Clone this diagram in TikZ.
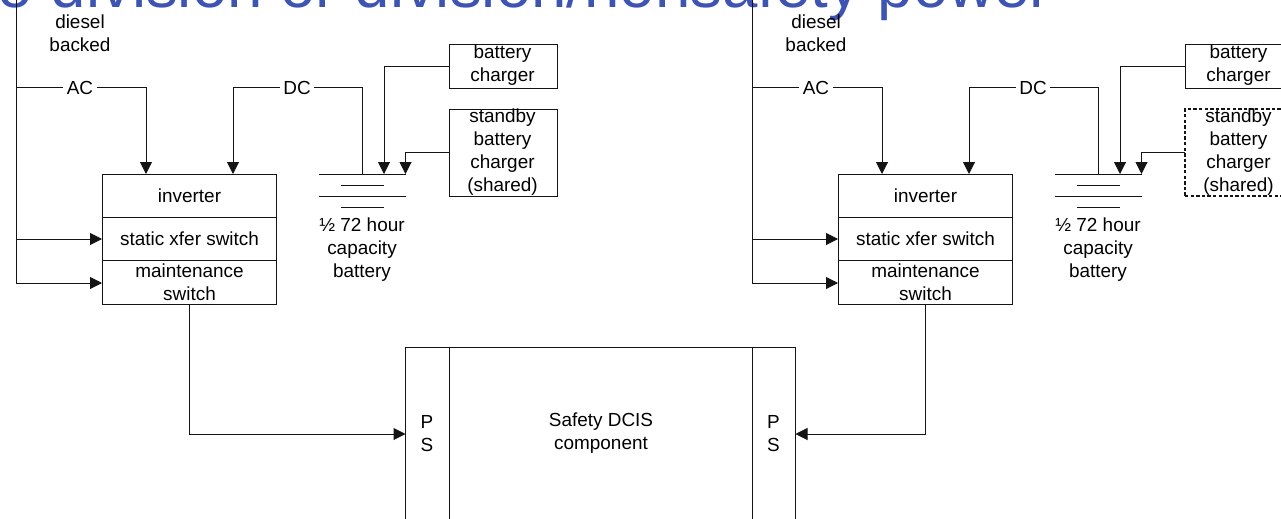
\documentclass[tikz,border=0pt]{standalone}
\usepackage{fontspec}
\setmainfont{Liberation Sans}
\usetikzlibrary{arrows.meta}
\definecolor{ttl}{RGB}{62,84,178}
\definecolor{ln}{RGB}{20,20,20}
\newcommand{\fs}{\fontsize{14.2pt}{17.2pt}\selectfont}
\tikzset{
  every node/.style={font=\fs,text=black},
  conn/.style={draw=ln,line width=0.75pt},
  arr/.style={conn,-{Triangle[length=9pt,width=9pt]}},
  bx/.style={draw=ln,line width=0.75pt,inner sep=0pt,outer sep=0pt,anchor=north west,rectangle},
  dashbx/.style={bx,line width=1pt,dash pattern=on 2.6pt off 1.6pt},
  lbl/.style={align=center,inner sep=0pt},
  gap/.style={lbl,fill=white,inner sep=2.5pt},
  plate/.style={draw=ln,line width=0.75pt},
}
\begin{document}
\begin{tikzpicture}[x=0.75pt,y=-0.75pt]
\useasboundingbox (0,0) rectangle (1281,518);
\clip (0,0) rectangle (1281,518);
\fill[white] (0,0) rectangle (1281,518);
\node[anchor=base west,inner sep=0pt,text=ttl,font=\fontsize{47.7pt}{47.7pt}\selectfont] (title) at (-2.5,7) {o division or division/nonsafety power};

% left train
\coordinate (busTopL) at (16,-2);
\coordinate (busBotL) at (16,283);
\draw[conn] (busTopL) -- (busBotL);
\node[lbl] (dieselL) at (80,33.5) {diesel\\backed};
\node[gap] (acL) at (80,87.5) {AC};
\node[gap] (dcL) at (297,87.5) {DC};
\node[bx,minimum width=130.5pt,minimum height=97.5pt] (upsL) at (102,174) {};
\draw[conn] (102,217) -- (276,217);
\draw[conn] (102,260.5) -- (276,260.5);
\node[lbl] (invL) at (189.5,195.5) {inverter};
\node[lbl] (stsL) at (189.5,238.5) {static xfer switch};
\node[lbl] (mntL) at (189.5,282) {maintenance\\switch};
\node[bx,minimum width=81pt,minimum height=33pt] (bcL) at (449,44) {};
\node[lbl] at (502.5,65) {battery\\charger};
\node[bx,minimum width=81pt,minimum height=65.25pt] (sbL) at (449,109) {};
\node[lbl] at (502.5,152) {standby\\battery\\charger\\(shared)};
\node[lbl] (capL) at (362,250) {½ 72 hour\\capacity\\battery};
\draw[plate] (319,174)--(406,174);
\draw[plate] (341,185)--(384,185);
\draw[plate] (319,196)--(406,196);
\draw[plate] (341,207)--(384,207);
\coordinate (dcTapL) at (362.5,174);
\coordinate (chgTapL) at (384,174);
\coordinate (sbTapL) at (405.5,174);
\draw[conn] (16,87.5) -- (acL);
\draw[arr] (acL) -| (146,174);
\draw[conn] (dcTapL) |- (dcL);
\draw[arr] (dcL) -| (233,174);
\draw[arr] (bcL.west) -| (chgTapL);
\draw[arr] (sbL.west) -| (sbTapL);
\draw[arr] (16,239) -- (upsL.west |- 0,239);
\draw[arr] (16,283) -- (upsL.west |- 0,283);

% right train
\draw[conn] (752,-2) -- (752,283);
\node[lbl] (dieselR) at (816,33.5) {diesel\\backed};
\node[gap] (acR) at (816,87.5) {AC};
\node[gap] (dcR) at (1033,87.5) {DC};
\node[bx,minimum width=130.5pt,minimum height=97.5pt] (upsR) at (838,174) {};
\draw[conn] (838,217) -- (1012,217);
\draw[conn] (838,260.5) -- (1012,260.5);
\node[lbl] at (925.5,195.5) {inverter};
\node[lbl] at (925.5,238.5) {static xfer switch};
\node[lbl] at (925.5,282) {maintenance\\switch};
\node[bx,minimum width=81pt,minimum height=33pt] (bcR) at (1185,44) {};
\node[lbl] at (1238.5,65) {battery\\charger};
\node[dashbx,minimum width=81pt,minimum height=65.25pt] (sbR) at (1185,109) {};
\node[lbl] at (1238.5,152) {standby\\battery\\charger\\(shared)};
\node[lbl] (capR) at (1098,250) {½ 72 hour\\capacity\\battery};
\draw[plate] (1055,174)--(1142,174);
\draw[plate] (1077,185)--(1120,185);
\draw[plate] (1055,196)--(1142,196);
\draw[plate] (1077,207)--(1120,207);
\coordinate (dcTapR) at (1098.5,174);
\coordinate (chgTapR) at (1120,174);
\coordinate (sbTapR) at (1141.5,174);
\draw[conn] (752,87.5) -- (acR);
\draw[arr] (acR) -| (882,174);
\draw[conn] (dcTapR) |- (dcR);
\draw[arr] (dcR) -| (969,174);
\draw[arr] (bcR.west) -| (chgTapR);
\draw[arr] (sbR.west) -| (sbTapR);
\draw[arr] (752,239) -- (upsR.west |- 0,239);
\draw[arr] (752,283) -- (upsR.west |- 0,283);

% component
\node[bx,minimum width=292.5pt,minimum height=150pt] (comp) at (405.5,347) {};
\draw[conn] (449,347) -- (449,530);
\draw[conn] (752.5,347) -- (752.5,530);
\node[lbl] (psL) at (427,433.5) {P\\S};
\node[lbl] (psR) at (773.5,433.5) {P\\S};
\node[lbl] at (601,433.5) {Safety DCIS\\component};
\coordinate (inL) at (405.5,434);
\coordinate (inR) at (795.5,434);
\draw[arr] (upsL.south) |- (inL);
\draw[arr] (upsR.south) |- (inR);
\end{tikzpicture}
\end{document}
